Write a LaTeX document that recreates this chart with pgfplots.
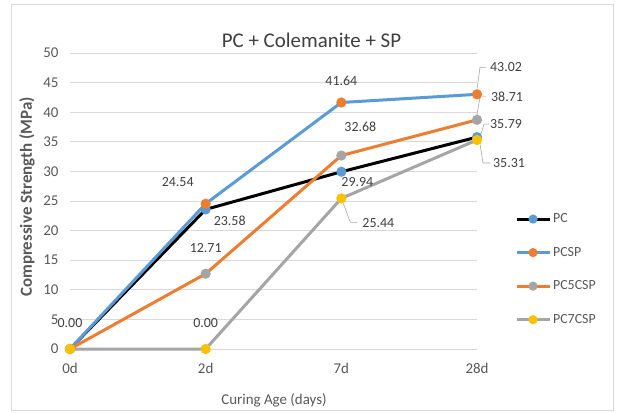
\documentclass[border=0pt]{standalone}
\usepackage{pgfplots}
\pgfplotsset{compat=1.18}
\usepackage{fontspec}
\setmainfont{Carlito}
\definecolor{cblue}{HTML}{5B9BD5}
\definecolor{corange}{HTML}{ED7D31}
\definecolor{cgray}{HTML}{A5A5A5}
\definecolor{cyellow}{HTML}{FFC000}
\definecolor{txt}{HTML}{595959}
\definecolor{dtxt}{HTML}{404040}
\definecolor{gridc}{HTML}{D9D9D9}
\begin{document}
\begin{tikzpicture}[x=1bp,y=1bp]
\useasboundingbox (0,0) rectangle (617,412);
\fill[white] (0,0) rectangle (617,412);
\draw[gridc, line width=1bp] (11,2) rectangle (613,407);
\begin{axis}[
  at={(70bp,63bp)}, anchor=south west, scale only axis,
  width=407bp, height=296bp,
  xmin=0, xmax=3, ymin=0, ymax=50,
  xtick={0,1,2,3}, xticklabels={0d,2d,7d,28d},
  ytick={0,5,...,50},
  ymajorgrids, grid style={gridc, line width=1bp},
  axis line style={draw=none},
  major tick length=0pt,
  tick label style={font=\fontsize{15}{18}\selectfont, text=txt},
  /pgf/number format/assume math mode=true,
  xticklabel style={yshift=-11bp},
  yticklabel style={xshift=-8bp},
  clip=false,
  legend style={draw=none, fill=none, at={(1.093,0.269)}, anchor=west,
    font=\fontsize{14}{16}\selectfont, text=txt, row sep=19bp,
    inner xsep=0pt, nodes={inner xsep=2bp}},
  legend cell align=left,
  legend image code/.code={\draw[#1, mark repeat=2, mark phase=2, mark size=3bp] plot coordinates {(0bp,0bp) (16.5bp,0bp) (33bp,0bp)};},
  every axis plot/.append style={line width=3bp, mark=*, mark size=3.5bp},
]
\addplot[black, mark options={cblue, fill=cblue, solid}] coordinates {(0,0) (1,23.58) (2,29.94) (3,35.79)};
\addlegendentry{PC}
\addplot[cblue, mark options={corange, fill=corange, solid}] coordinates {(0,0) (1,24.54) (2,41.64) (3,43.02)};
\addlegendentry{PCSP}
\addplot[corange, mark options={cgray, fill=cgray, solid}] coordinates {(0,0) (1,12.71) (2,32.68) (3,38.71)};
\addlegendentry{PC5CSP}
\addplot[cgray, mark options={cyellow, fill=cyellow, solid}] coordinates {(0,0) (1,0) (2,25.44) (3,35.31)};
\addlegendentry{PC7CSP}
% data labels
\tikzset{lbl/.style={font=\fontsize{14}{16}\selectfont, text=dtxt, inner sep=0pt}}
\node[lbl, xshift=0bp, yshift=26bp] at (axis cs:0,0) {0.00};
\node[lbl, xshift=-28bp, yshift=22bp] at (axis cs:1,24.54) {24.54};
\node[lbl, xshift=24bp, yshift=-11bp] at (axis cs:1,23.58) {23.58};
\node[lbl, xshift=0bp, yshift=26bp] at (axis cs:1,12.71) {12.71};
\node[lbl, xshift=0bp, yshift=26bp] at (axis cs:1,0) {0.00};
\node[lbl, xshift=0bp, yshift=22bp] at (axis cs:2,41.64) {41.64};
\node[lbl, xshift=19bp, yshift=29bp] at (axis cs:2,32.68) {32.68};
\node[lbl, xshift=16bp, yshift=-10bp] at (axis cs:2,29.94) {29.94};
\node[lbl, xshift=37bp, yshift=-25bp] at (axis cs:2,25.44) {25.44};
\node[lbl, xshift=29bp, yshift=27bp] at (axis cs:3,43.02) {43.02};
\node[lbl, xshift=30bp, yshift=23bp] at (axis cs:3,38.71) {38.71};
\node[lbl, xshift=29bp, yshift=13bp] at (axis cs:3,35.79) {35.79};
\node[lbl, xshift=32bp, yshift=-23bp] at (axis cs:3,35.31) {35.31};
% leader lines
\draw[gray!70, line width=0.6bp] (axis cs:2,25.44) ++(2bp,-5bp) -- ++(7bp,-19bp) -- ++(7bp,0);
\draw[gray!70, line width=0.6bp] (axis cs:3,43.02) ++(0bp,5bp) -- ++(3bp,22bp) -- ++(6bp,0);
\draw[gray!70, line width=0.6bp] (axis cs:3,38.71) ++(0bp,5bp) -- ++(3bp,18bp) -- ++(6bp,0);
\draw[gray!70, line width=0.6bp] (axis cs:3,35.79) ++(4bp,3bp) -- ++(3bp,10bp) -- ++(5bp,0);
\draw[gray!70, line width=0.6bp] (axis cs:3,35.31) ++(3bp,-4bp) -- ++(3bp,-19bp) -- ++(7bp,0);
\end{axis}
\node[font=\fontsize{21}{24}\selectfont, text=dtxt] at (311.5,372) {PC + Colemanite + SP};
\node[rotate=90, font=\bfseries\fontsize{17}{20}\selectfont, text=txt] at (27,215) {Compressive Strength (MPa)};
\node[font=\fontsize{15}{18}\selectfont, text=txt] at (274,12) {Curing Age (days)};
\end{tikzpicture}
\end{document}
